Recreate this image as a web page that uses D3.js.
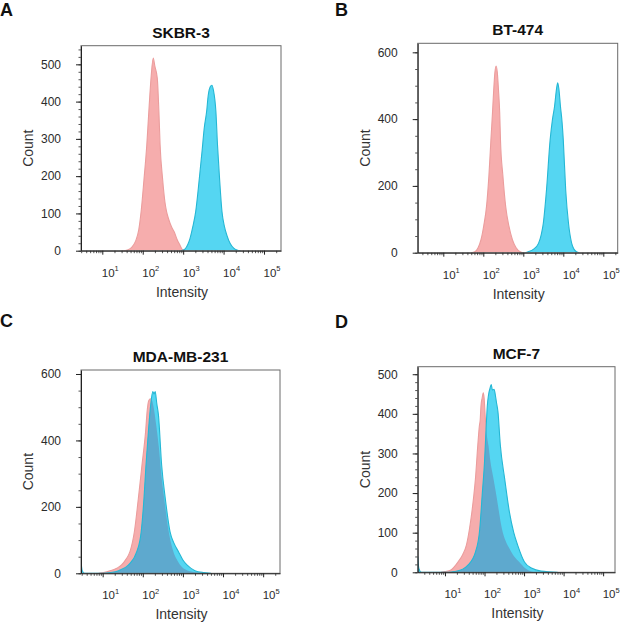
<!DOCTYPE html>
<html>
<head>
<meta charset="utf-8">
<script src="https://cdnjs.cloudflare.com/ajax/libs/d3/7.8.5/d3.min.js"></script>
<style>
  body { margin: 0; background: #fff; }
  svg { display: block; font-family: 'Liberation Sans', Arial, sans-serif; }
</style>
</head>
<body>
<div id="chart"></div>
<script>

// panel texts
var panelLetters = ['A', 'B', 'C', 'D'];
var cellLines = ['SKBR-3', 'BT-474', 'MDA-MB-231', 'MCF-7'];

// tick labels
var xTickExponents = [1, 2, 3, 4, 5];
var yTicks = [
    [0, 100, 200, 300, 400, 500],
    [0, 200, 400, 600],
    [0, 200, 400, 600],
    [0, 100, 200, 300, 400, 500]
];

// histograms: [log10 intensity, count]
// control (pink)
var skbr3Ctrl = [[1.50,0],[1.62,2],[1.72,8],[1.82,25],[1.90,55],[1.96,105],[2.03,190],[2.10,283],[2.16,390],[2.21,470],[2.26,517],[2.30,495],[2.36,463],[2.40,373],[2.43,283],[2.49,194],[2.55,130],[2.59,105],[2.64,85],[2.72,62],[2.78,50],[2.85,30],[2.92,15],[2.98,3],[3.05,0]];
var bt474Ctrl = [[1.70,0],[1.79,3],[1.87,15],[1.94,38],[2.01,80],[2.08,138],[2.14,230],[2.19,337],[2.23,420],[2.26,487],[2.29,540],[2.32,559],[2.35,540],[2.38,487],[2.41,420],[2.43,337],[2.49,230],[2.56,138],[2.64,80],[2.73,38],[2.82,15],[2.92,3],[3.00,0]];
var mda231Ctrl = [[0.90,0],[1.02,2],[1.20,8],[1.35,15],[1.47,25],[1.58,42],[1.68,65],[1.79,125],[1.89,226],[1.98,326],[2.07,427],[2.11,490],[2.15,520],[2.19,525],[2.23,520],[2.27,500],[2.33,450],[2.40,380],[2.46,300],[2.54,220],[2.64,130],[2.75,70],[2.88,35],[3.05,12],[3.30,3],[3.50,0]];
var mcf7Ctrl = [[0.90,0],[1.00,2],[1.15,6],[1.33,26],[1.45,45],[1.54,68],[1.62,110],[1.68,152],[1.73,195],[1.77,236],[1.83,321],[1.87,370],[1.89,384],[1.91,420],[1.94,440],[1.97,453],[1.99,440],[2.02,390],[2.04,363],[2.10,320],[2.15,279],[2.22,240],[2.30,194],[2.37,150],[2.44,110],[2.53,80],[2.63,60],[2.75,40],[2.88,26],[3.03,10],[3.18,2],[3.30,0]];

// antibody (cyan)
var skbr3Ab = [[2.95,0],[3.05,5],[3.12,18],[3.17,33],[3.24,65],[3.31,105],[3.40,194],[3.47,270],[3.52,328],[3.58,373],[3.62,417],[3.67,440],[3.71,444],[3.75,430],[3.81,373],[3.85,283],[3.90,194],[3.96,105],[4.02,65],[4.08,42],[4.16,20],[4.25,7],[4.33,2],[4.42,0]];
var bt474Ab = [[3.05,0],[3.12,3],[3.25,10],[3.38,28],[3.45,55],[3.50,88],[3.58,188],[3.67,337],[3.73,400],[3.78,437],[3.83,490],[3.86,509],[3.89,490],[3.93,437],[3.97,390],[4.00,337],[4.06,188],[4.13,88],[4.21,28],[4.27,10],[4.33,3],[4.40,0]];
var mda231Ab = [[0.46,35],[0.49,8],[0.55,0],[1.00,0],[1.18,2],[1.40,8],[1.64,25],[1.85,65],[1.96,125],[2.03,226],[2.08,326],[2.14,427],[2.20,510],[2.25,547],[2.28,540],[2.31,547],[2.35,510],[2.39,477],[2.47,326],[2.56,226],[2.68,125],[2.78,90],[2.89,65],[3.00,40],[3.10,25],[3.30,8],[3.52,2],[3.70,0]];
var mcf7Ab = [[0.31,40],[0.34,10],[0.40,0],[1.10,0],[1.24,2],[1.45,8],[1.58,18],[1.77,51],[1.88,110],[1.94,194],[2.00,279],[2.04,363],[2.07,420],[2.10,447],[2.14,465],[2.17,474],[2.20,460],[2.24,462],[2.27,450],[2.30,430],[2.34,405],[2.40,321],[2.51,236],[2.63,152],[2.74,100],[2.84,68],[3.01,26],[3.20,10],[3.43,3],[3.85,0]];

var ctrlSeries = [skbr3Ctrl, bt474Ctrl, mda231Ctrl, mcf7Ctrl];
var abSeries = [skbr3Ab, bt474Ab, mda231Ab, mcf7Ab];

// frame of each panel on the page
var frames = [
    {left: 81,    right: 281, top: 45.7,  bottom: 250.7, xLo: 0.473, xHi: 5.42, yHi: 550, minor: 20, letterX: 0, letterY: 16},
    {left: 417.7, right: 617.7, top: 43.3, bottom: 252.7, xLo: 0.36, xHi: 5.36, yHi: 627, minor: 50, letterX: 335, letterY: 16},
    {left: 81,    right: 280, top: 370,   bottom: 573.3, xLo: 0.46, xHi: 5.42, yHi: 612, minor: 50, letterX: 0, letterY: 327},
    {left: 417.7, right: 615, top: 366.7, bottom: 572.3, xLo: 0.31, xHi: 5.30, yHi: 519, minor: 20, letterX: 335, letterY: 328}
];

var ctrlFill = '#f6adad', ctrlStroke = '#eb9d9d',
    abFill = '#55d6f2', abStroke = '#25b7d4',
    overlapFill = '#5ea9ce';

var svg = d3.select('#chart')
    .append('svg')
    .attr('width', 627)
    .attr('height', 631);

function drawPanel(i) {
    var f = frames[i];
    var g = svg.append('g').attr('class', 'panel');

    var x = d3.scaleLinear().domain([f.xLo, f.xHi]).range([f.left, f.right]);
    var y = d3.scaleLinear().domain([0, f.yHi]).range([f.bottom, f.top]);

    //clip to the plot box
    g.append('clipPath').attr('id', 'plot-' + i)
        .append('rect')
        .attr('x', f.left).attr('y', f.top)
        .attr('width', f.right - f.left).attr('height', f.bottom - f.top);

    var area = d3.area()
        .x(function (d) { return x(d[0]); })
        .y0(y(0))
        .y1(function (d) { return y(d[1]); })
        .curve(d3.curveMonotoneX);
    var line = d3.line()
        .x(function (d) { return x(d[0]); })
        .y(function (d) { return y(d[1]); })
        .curve(d3.curveMonotoneX);

    var plot = g.append('g').attr('clip-path', 'url(#plot-' + i + ')');

    plot.append('path').datum(ctrlSeries[i])
        .attr('d', area).attr('fill', ctrlFill);
    plot.append('path').datum(ctrlSeries[i])
        .attr('d', line).attr('fill', 'none')
        .attr('stroke', ctrlStroke).attr('stroke-width', 1.1);

    plot.append('path').datum(abSeries[i])
        .attr('d', area).attr('fill', abFill);

    //overlap of the two histograms
    g.append('clipPath').attr('id', 'ctrl-' + i)
        .append('path').datum(ctrlSeries[i]).attr('d', area);
    plot.append('g').attr('clip-path', 'url(#ctrl-' + i + ')')
        .append('path').datum(abSeries[i])
        .attr('d', area).attr('fill', overlapFill);

    plot.append('path').datum(abSeries[i])
        .attr('d', line).attr('fill', 'none')
        .attr('stroke', abStroke).attr('stroke-width', 1.1);

    //box
    g.append('rect')
        .attr('x', f.left).attr('y', f.top)
        .attr('width', f.right - f.left).attr('height', f.bottom - f.top)
        .attr('fill', 'none').attr('stroke', '#6a6a6a').attr('stroke-width', 1);

    //y axis
    var yMinor = d3.range(0, f.yHi, f.minor);
    g.append('g')
        .attr('transform', 'translate(' + f.left + ',0)')
        .call(d3.axisLeft(y).tickValues(yMinor).tickSize(2.5).tickFormat(''))
        .call(function (a) { a.select('.domain').remove(); })
        .selectAll('line').attr('stroke', '#555');
    var yAxis = g.append('g')
        .attr('transform', 'translate(' + f.left + ',0)')
        .call(d3.axisLeft(y).tickValues(yTicks[i]).tickSize(5).tickPadding(15).tickSizeOuter(0));
    yAxis.select('.domain').attr('stroke', '#222');
    yAxis.selectAll('line').attr('stroke', '#222');
    yAxis.selectAll('text')
        .attr('font-size', 12).attr('fill', '#2b2b2b')
        .style('font-family', "'Liberation Sans', Arial, sans-serif");

    //x axis: decades plus log minor ticks
    var xMinor = [];
    d3.range(0, 6).forEach(function (e) {
        d3.range(2, 10).forEach(function (k) {
            var v = e + Math.log10(k);
            if (v > f.xLo && v < f.xHi) xMinor.push(v);
        });
    });
    g.append('g')
        .attr('transform', 'translate(0,' + f.bottom + ')')
        .call(d3.axisBottom(x).tickValues(xMinor).tickSize(2.5).tickFormat(''))
        .call(function (a) { a.select('.domain').remove(); })
        .selectAll('line').attr('stroke', '#555');
    var xAxis = g.append('g')
        .attr('transform', 'translate(0,' + f.bottom + ')')
        .call(d3.axisBottom(x).tickValues(xTickExponents).tickSize(4).tickSizeOuter(0).tickFormat(''));
    xAxis.select('.domain').attr('stroke', '#222');
    xAxis.selectAll('line').attr('stroke', '#222');

    var xLabels = g.selectAll('.xlab')
        .data(xTickExponents)
        .enter()
        .append('text')
        .attr('class', 'xlab')
        .attr('x', function (d) { return x(d) - 0.5; })
        .attr('y', f.bottom + 26)
        .attr('font-size', 11.5)
        .attr('fill', '#2b2b2b');
    xLabels.append('tspan').text('10');
    xLabels.append('tspan')
        .attr('font-size', 7.5).attr('dy', -5.5)
        .text(function (d) { return d; });

    //titles and axis labels
    g.append('text')
        .attr('x', (f.left + f.right) / 2).attr('y', f.top - 8)
        .attr('text-anchor', 'middle')
        .attr('font-size', 15.5).attr('font-weight', 'bold').attr('fill', '#111')
        .text(cellLines[i]);

    g.append('text')
        .attr('x', (f.left + f.right) / 2 + 1).attr('y', f.bottom + 46)
        .attr('text-anchor', 'middle')
        .attr('font-size', 14).attr('fill', '#333')
        .text('Intensity');

    g.append('text')
        .attr('transform', 'translate(' + (f.left - 48) + ',' + ((f.top + f.bottom) / 2) + ') rotate(-90)')
        .attr('text-anchor', 'middle')
        .attr('font-size', 14).attr('fill', '#333')
        .text('Count');

    g.append('text')
        .attr('x', f.letterX).attr('y', f.letterY)
        .attr('font-size', 18).attr('font-weight', 'bold').attr('fill', '#111')
        .text(panelLetters[i]);
}

d3.range(0, 4).forEach(drawPanel);

</script>
</body>
</html>
